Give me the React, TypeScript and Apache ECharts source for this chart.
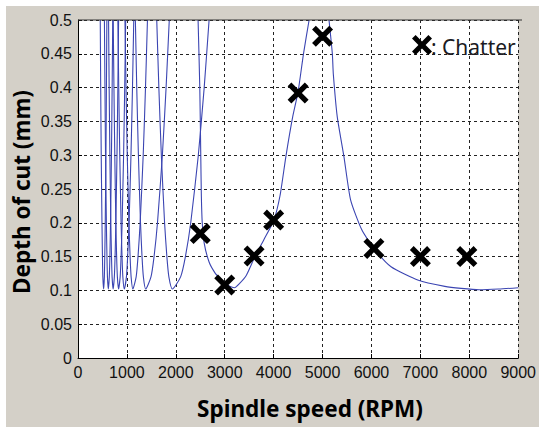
import React, { useEffect, useRef } from "react";
import * as echarts from "echarts";

// Stability lobes: [spindle speed (RPM), depth of cut (mm)]
const lobe1 = [[455,0.5],[464,0.4],[475,0.3],[490,0.2],[500,0.15],[508,0.12],[524,0.102],[539,0.12],[547,0.15],[557,0.2],[571,0.3],[581,0.4],[590,0.5]];
const lobe2 = [[540,0.5],[551,0.4],[563,0.3],[580,0.2],[592,0.15],[602,0.12],[620,0.102],[640,0.12],[652,0.15],[665,0.2],[684,0.3],[698,0.4],[710,0.5]];
const lobe3 = [[625,0.5],[637,0.4],[652,0.3],[671,0.2],[685,0.15],[697,0.12],[718,0.102],[743,0.12],[758,0.15],[774,0.2],[797,0.3],[815,0.4],[830,0.5]];
const lobe4 = [[720,0.5],[735,0.4],[752,0.3],[774,0.2],[790,0.15],[805,0.12],[829,0.102],[862,0.12],[881,0.15],[902,0.2],[932,0.3],[955,0.4],[975,0.5]];
const lobe5 = [[815,0.5],[833,0.4],[854,0.3],[881,0.2],[900,0.15],[917,0.12],[947,0.102],[990,0.12],[1015,0.15],[1044,0.2],[1083,0.3],[1114,0.4],[1140,0.5]];
const lobe6 = [[960,0.5],[982,0.4],[1007,0.3],[1041,0.2],[1065,0.15],[1086,0.12],[1122,0.102],[1189,0.12],[1227,0.15],[1271,0.2],[1333,0.3],[1380,0.4],[1420,0.5]];
const lobe7 = [[1173,0.5],[1201,0.4],[1235,0.3],[1278,0.2],[1309,0.15],[1337,0.12],[1384,0.102],[1492,0.12],[1555,0.15],[1625,0.2],[1725,0.3],[1801,0.4],[1866,0.5]];
const lobe8 = [[1610,0.5],[1653,0.4],[1704,0.3],[1770,0.2],[1817,0.15],[1858,0.12],[1930,0.102],[2098,0.12],[2196,0.15],[2305,0.2],[2460,0.3],[2580,0.4],[2680,0.5]];
const lobe9 = [[2455,0.5],[2490,0.4],[2510,0.3],[2522,0.24],[2540,0.2],[2580,0.17],[2680,0.142],[2800,0.126],[2900,0.118],[3050,0.108],[3200,0.104],[3300,0.11],[3440,0.122],[3600,0.147],[3800,0.175],[4000,0.203],[4130,0.24],[4250,0.298],[4390,0.357],[4500,0.394],[4610,0.45],[4725,0.5]];
const lobe10 = [[5132,0.5],[5200,0.45],[5220,0.42],[5300,0.357],[5437,0.298],[5573,0.234],[5800,0.19],[6050,0.162],[6400,0.135],[6960,0.115],[7500,0.106],[7835,0.103],[8200,0.101],[8600,0.102],[9000,0.104]];
const lobes = [lobe1, lobe2, lobe3, lobe4, lobe5, lobe6, lobe7, lobe8, lobe9, lobe10];

// Chatter test points
const chatterSpeed = [2500, 3000, 3600, 4000, 4500, 5000, 6050, 7000, 7950];
const chatterDepth = [0.184, 0.108, 0.151, 0.204, 0.392, 0.476, 0.162, 0.15, 0.15];

const X_PATH = "path://M0,1.8L1.8,0L5,3.2L8.2,0L10,1.8L6.8,5L10,8.2L8.2,10L5,6.8L1.8,10L0,8.2L3.2,5Z";
const LOBE_COLOR = "#3b45b2";
const GRID_LEFT = 72;
const GRID_TOP = 14;
const GRID_RIGHT = 17;
const GRID_BOTTOM = 69;

export default function App() {
  const ref = useRef<HTMLDivElement>(null);
  useEffect(() => {
    if (!ref.current) return;
    const chart = echarts.init(ref.current, null, { renderer: "svg" });
    const labelFont = { color: "#111", fontSize: 16, fontFamily: '"Liberation Sans", Arial, sans-serif' };
    const splitLine = { show: true, lineStyle: { color: "#222", type: [3, 3] as any, width: 1 } };
    const W = 533;
    const plotRight = W - GRID_RIGHT;
    const xPts = [[-10,-6.4],[-6.4,-10],[0,-3.6],[6.4,-10],[10,-6.4],[3.6,0],[10,6.4],[6.4,10],[0,3.6],[-6.4,10],[-10,6.4],[-3.6,0]];
    chart.setOption({
      animation: false,
      backgroundColor: "#d4d0c8",
      grid: {
        left: GRID_LEFT, top: GRID_TOP, right: GRID_RIGHT, bottom: GRID_BOTTOM,
        show: true, backgroundColor: "#ffffff", borderWidth: 0,
      },
      xAxis: {
        type: "value", min: 0, max: 9000, interval: 1000,
        axisLine: { show: true, lineStyle: { color: "#000", width: 1 } },
        axisTick: { show: true, inside: true, length: 4, lineStyle: { color: "#000" } },
        axisLabel: { ...labelFont, margin: 6, formatter: (v: number) => String(v) },
        splitLine,
      },
      yAxis: {
        type: "value", min: 0, max: 0.5, interval: 0.05,
        axisLine: { show: true, lineStyle: { color: "#000", width: 1 } },
        axisTick: { show: true, inside: true, length: 4, lineStyle: { color: "#000" } },
        axisLabel: { ...labelFont, margin: 6 },
        splitLine,
      },
      series: [
        ...lobes.map((l, i) => ({
          name: "lobe" + (i + 1),
          type: "line",
          data: l,
          smooth: 0.2,
          symbol: "none",
          clip: true,
          silent: true,
          lineStyle: { color: LOBE_COLOR, width: 1.1 },
          z: 2,
        })),
        {
          name: "Chatter",
          type: "scatter",
          data: chatterSpeed.map((s, i) => [s, chatterDepth[i]]),
          symbol: X_PATH,
          symbolSize: 21,
          itemStyle: { color: "#000", opacity: 1 },
          z: 5,
        },
      ],
      graphic: [
        {
          type: "line",
          shape: { x1: GRID_LEFT, y1: GRID_TOP, x2: plotRight, y2: GRID_TOP },
          style: { stroke: "#333", lineWidth: 1 },
          z: 10,
        },
        {
          type: "polygon",
          x: 416, y: 39,
          shape: { points: xPts },
          style: { fill: "#000" },
          z: 10,
        },
        {
          type: "text",
          x: 425, y: 41,
          style: {
            text: ": Chatter",
            font: '21px "Noto Sans", sans-serif',
            fill: "#1a1a22",
            textAlign: "left", textVerticalAlign: "middle",
            align: "left", verticalAlign: "middle",
          },
          z: 10,
        },
        {
          type: "text",
          x: 304, y: 402,
          style: {
            text: "Spindle speed (RPM)",
            font: 'bold 22.5px "Noto Sans", sans-serif',
            fill: "#000",
            textAlign: "center", textVerticalAlign: "middle",
            align: "center", verticalAlign: "middle",
          },
        },
        {
          type: "text",
          x: 15, y: 186,
          rotation: Math.PI / 2,
          style: {
            text: "Depth of cut (mm)",
            font: 'bold 22.5px "Noto Sans", sans-serif',
            fill: "#000",
            textAlign: "center", textVerticalAlign: "middle",
            align: "center", verticalAlign: "middle",
          },
        },
      ],
    });
    return () => chart.dispose();
  }, []);
  return (
    <div style={{ position: "fixed", left: 0, top: 0, width: 539, height: 428, background: "#ffffff" }}>
      <div ref={ref} style={{ position: "absolute", left: 6, top: 6, width: 533, height: 421 }} />
    </div>
  );
}
